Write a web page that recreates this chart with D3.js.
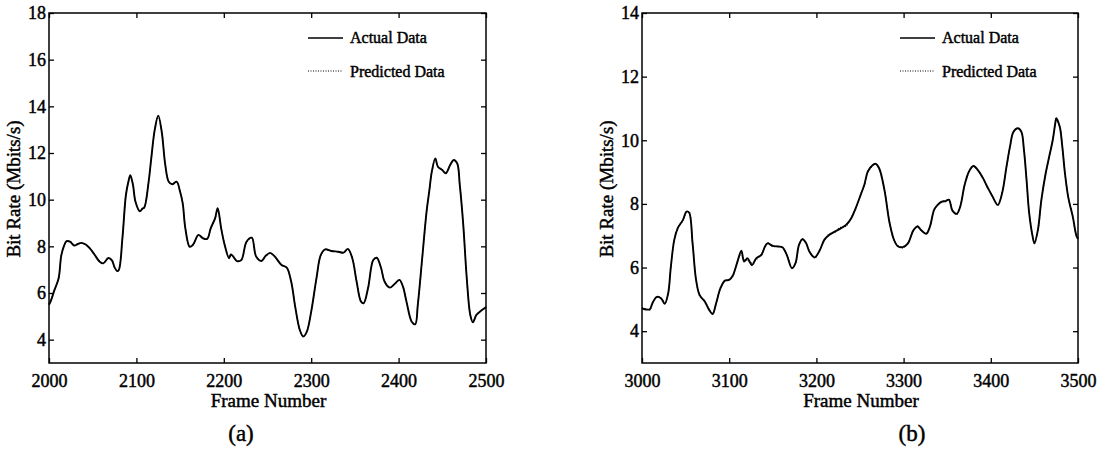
<!DOCTYPE html>
<html>
<head>
<meta charset="UTF-8">
<title>Bit rate: actual vs predicted</title>
<script src="https://cdn.jsdelivr.net/npm/d3@7"></script>
<style>
  body { margin: 0; background: #fff; }
  svg { display: block; }
  text { font-family: "Liberation Serif", "Times New Roman", serif; fill: #000; stroke: #000; stroke-width: 0.45px; }
</style>
</head>
<body>
<svg id="chart" width="1101" height="451"></svg>
<script>
// ---- panel (a): frames 2000-2500
var framesA = [2000,2002,2006,2011,2014,2017,2020,2024,2029,2033,2037,2042,2047,2052,2058,2062,2068,2072,2075,2078,
  2080,2084,2088,2091,2093,2096,2099,2104,2107,2109,2114,2117,2121,2125,2129,2133,2137,2141,2146,2150,
  2153,2156,2161,2165,2171,2176,2181,2185,2190,2193,2197,2201,2206,2208,2210,2215,2220,2226,2232,2237,
  2243,2248,2253,2258,2266,2272,2277,2282,2287,2291,2295,2300,2306,2311,2316,2323,2331,2337,2342,2347,
  2352,2357,2360,2365,2371,2375,2380,2384,2390,2396,2401,2405,2409,2415,2419,2422,2427,2432,2435,2438,
  2442,2445,2450,2454,2459,2463,2467,2470,2474,2478,2482,2485,2489,2493,2499,2500];
var actualA = [5.5,5.65,6.1,6.63,7.6,8.0,8.22,8.2,8.03,8.1,8.15,8.08,7.9,7.65,7.34,7.27,7.5,7.4,7.1,6.94,
  7.0,8.35,10.2,10.8,11.05,10.65,9.9,9.5,9.62,9.66,10.77,11.77,13.0,13.6,12.9,11.5,10.77,10.66,10.77,10.34,
  9.84,8.77,7.98,8.08,8.49,8.35,8.32,8.77,9.2,9.63,8.77,8.06,7.49,7.65,7.6,7.37,7.41,8.2,8.37,7.56,
  7.37,7.6,7.72,7.58,7.2,7.09,6.5,5.34,4.41,4.13,4.34,5.2,6.63,7.63,7.87,7.8,7.77,7.73,7.89,7.49,
  6.48,5.63,5.56,6.2,7.41,7.51,7.06,6.48,6.23,6.41,6.56,6.27,5.63,4.77,4.66,5.5,7.49,9.49,10.34,11.2,
  11.77,11.41,11.27,11.13,11.49,11.7,11.56,10.63,8.91,6.63,5.06,4.74,5.06,5.2,5.37,5.4];
var predictedA = [5.52,5.66,6.12,6.6,7.58,8.02,8.2,8.21,8.05,8.1,8.13,8.07,7.92,7.64,7.35,7.28,7.48,7.41,7.12,6.95,
  7.02,8.33,10.18,10.79,11.03,10.66,9.92,9.52,9.6,9.67,10.75,11.75,12.98,13.57,12.92,11.52,10.78,10.67,10.75,10.35,
  9.85,8.79,8.0,8.07,8.47,8.36,8.33,8.75,9.18,9.6,8.79,8.08,7.5,7.63,7.61,7.38,7.42,8.18,8.35,7.58,
  7.38,7.59,7.7,7.57,7.21,7.08,6.52,5.36,4.43,4.15,4.36,5.22,6.61,7.61,7.86,7.81,7.76,7.74,7.87,7.5,
  6.5,5.65,5.57,6.22,7.39,7.5,7.07,6.5,6.24,6.4,6.55,6.28,5.65,4.79,4.68,5.52,7.47,9.47,10.32,11.18,
  11.75,11.42,11.28,11.14,11.47,11.68,11.55,10.65,8.93,6.65,5.08,4.76,5.05,5.21,5.36,5.4];

// ---- panel (b): frames 3000-3500
var framesB = [3000,3005,3009,3012,3017,3022,3026,3030,3033,3037,3041,3047,3051,3054,3058,3062,3066,3072,3077,3081,
  3085,3090,3095,3100,3104,3109,3114,3117,3121,3126,3131,3137,3141,3144,3150,3156,3161,3166,3172,3176,
  3180,3184,3188,3192,3198,3204,3209,3215,3221,3226,3234,3240,3245,3251,3255,3259,3265,3268,3272,3278,
  3284,3289,3293,3299,3305,3311,3316,3320,3326,3330,3335,3339,3344,3348,3352,3356,3361,3365,3370,3375,
  3380,3385,3391,3396,3402,3408,3413,3418,3422,3426,3431,3435,3438,3441,3444,3448,3450,3454,3458,3463,
  3467,3471,3474,3475,3479,3482,3485,3489,3494,3498,3500];
var actualB = [4.72,4.68,4.69,4.88,5.08,5.03,4.86,5.19,6.0,6.87,7.24,7.5,7.76,7.73,6.76,5.61,5.14,4.93,4.67,4.54,
  4.88,5.35,5.59,5.61,5.74,6.14,6.53,6.19,6.29,6.08,6.29,6.4,6.66,6.76,6.68,6.66,6.64,6.4,5.98,6.14,
  6.71,6.89,6.78,6.5,6.32,6.55,6.87,7.03,7.13,7.2,7.34,7.55,7.86,8.3,8.6,9.02,9.23,9.26,9.12,8.44,
  7.39,6.87,6.68,6.64,6.76,7.16,7.29,7.18,7.06,7.27,7.81,7.97,8.07,8.09,8.13,7.79,7.69,7.92,8.6,9.02,
  9.19,9.07,8.81,8.54,8.23,7.97,8.34,9.17,9.8,10.27,10.38,10.27,9.7,8.75,7.71,6.97,6.76,7.18,8.13,8.97,
  9.49,10.0,10.55,10.69,10.43,9.8,8.97,8.18,7.6,7.02,6.9];
var predictedB = [4.74,4.7,4.67,4.9,5.06,5.05,4.88,5.17,6.02,6.85,7.26,7.48,7.74,7.75,6.78,5.63,5.12,4.95,4.69,4.56,
  4.86,5.37,5.57,5.63,5.72,6.17,6.45,6.25,6.22,6.14,6.25,6.43,6.63,6.78,6.66,6.67,6.62,6.42,6.0,6.12,
  6.69,6.91,6.76,6.52,6.3,6.57,6.85,7.06,7.1,7.24,7.3,7.58,7.84,8.32,8.58,9.0,9.21,9.27,9.1,8.46,
  7.41,6.85,6.7,6.62,6.78,7.14,7.31,7.16,7.08,7.25,7.83,7.95,8.09,8.07,8.15,7.81,7.67,7.94,8.58,9.0,
  9.2,9.05,8.83,8.52,8.25,7.95,8.36,9.15,9.78,10.25,10.37,10.26,9.72,8.77,7.73,6.99,6.78,7.16,8.11,8.95,
  9.47,10.02,10.53,10.68,10.45,9.82,8.99,8.2,7.62,7.0,6.92];

var xTicksA = [2000,2100,2200,2300,2400,2500];
var yTicksA = [4,6,8,10,12,14,16,18];
var xTicksB = [3000,3100,3200,3300,3400,3500];
var yTicksB = [4,6,8,10,12,14];
var seriesNames = ["Actual Data", "Predicted Data"];

var svg = d3.select("#chart");
svg.append("rect").attr("width", 1101).attr("height", 451).attr("fill", "#fff");

function panel(opt) {
  var x = d3.scaleLinear().domain(opt.xDomain).range([opt.left, opt.right]);
  var y = d3.scaleLinear().domain(opt.yDomain).range([363, 13]);
  var g = svg.append("g");

  var line = d3.line()
    .x(function(d) { return x(d[0]); })
    .y(function(d) { return y(d[1]); })
    .curve(d3.curveCatmullRom.alpha(0.5));

  var act = opt.frames.map(function(f, i) { return [f, opt.actual[i]]; });
  var pre = opt.frames.map(function(f, i) { return [f, opt.predicted[i]]; });

  g.append("path").datum(pre).attr("d", line)
    .attr("fill", "none").attr("stroke", "#000")
    .attr("stroke-width", 1.2).attr("stroke-dasharray", "1,1.5");
  g.append("path").datum(act).attr("d", line)
    .attr("fill", "none").attr("stroke", "#000").attr("stroke-width", 1.9);

  // axes, ticks pointing inward on all four sides
  var bottom = g.append("g").attr("transform", "translate(0,363)")
    .call(d3.axisBottom(x).tickValues(opt.xTicks).tickSizeInner(-5).tickSizeOuter(0).tickPadding(11).tickFormat(d3.format("d")));
  var top = g.append("g").attr("transform", "translate(0,13)")
    .call(d3.axisTop(x).tickValues(opt.xTicks).tickSizeInner(-5).tickSizeOuter(0).tickFormat(""));
  var left = g.append("g").attr("transform", "translate(" + opt.left + ",0)")
    .call(d3.axisLeft(y).tickValues(opt.yTicks).tickSizeInner(-5).tickSizeOuter(0).tickPadding(3).tickFormat(d3.format("d")));
  var right = g.append("g").attr("transform", "translate(" + opt.right + ",0)")
    .call(d3.axisRight(y).tickValues(opt.yTicks).tickSizeInner(-5).tickSizeOuter(0).tickFormat(""));

  [bottom, top, left, right].forEach(function(a) {
    a.select(".domain").remove();
    a.attr("font-family", null).attr("font-size", null);
    a.selectAll("line").attr("stroke", "#000").attr("stroke-width", 1.3);
    a.selectAll("text").style("font-size", "18px").attr("fill", "#000");
  });

  g.append("rect")
    .attr("x", opt.left).attr("y", 13)
    .attr("width", opt.right - opt.left).attr("height", 350)
    .attr("fill", "none").attr("stroke", "#000").attr("stroke-width", 1.5);

  // legend
  var lx = opt.legendX;
  g.append("line").attr("x1", lx).attr("x2", lx + 35).attr("y1", 38).attr("y2", 38)
    .attr("stroke", "#000").attr("stroke-width", 1.3);
  g.append("line").attr("x1", lx).attr("x2", lx + 35).attr("y1", 71).attr("y2", 71)
    .attr("stroke", "#000").attr("stroke-width", 1.1).attr("stroke-dasharray", "1,1.5");
  g.append("text").attr("x", lx + 42).attr("y", 43).style("font-size", "16px").text(seriesNames[0]);
  g.append("text").attr("x", lx + 42).attr("y", 77).style("font-size", "16px").text(seriesNames[1]);

  // axis titles
  g.append("text").attr("x", (opt.left + opt.right) / 2 + 1).attr("y", 407)
    .attr("text-anchor", "middle").style("font-size", "19px").text("Frame Number");
  g.append("text")
    .attr("transform", "translate(" + (opt.left - 29) + ",189) rotate(-90)")
    .attr("text-anchor", "middle").style("font-size", "19px").text("Bit Rate (Mbits/s)");
  g.append("text").attr("x", opt.labelX).attr("y", 441)
    .attr("text-anchor", "middle").style("font-size", "23px").text(opt.label);
}

panel({
  frames: framesA, actual: actualA, predicted: predictedA,
  xDomain: [2000, 2500], yDomain: [3, 18], xTicks: xTicksA, yTicks: yTicksA,
  left: 49, right: 486, legendX: 308, labelX: 241, label: "(a)"
});
panel({
  frames: framesB, actual: actualB, predicted: predictedB,
  xDomain: [3000, 3500], yDomain: [3, 14], xTicks: xTicksB, yTicks: yTicksB,
  left: 642, right: 1078, legendX: 900, labelX: 912, label: "(b)"
});
</script>
</body>
</html>
